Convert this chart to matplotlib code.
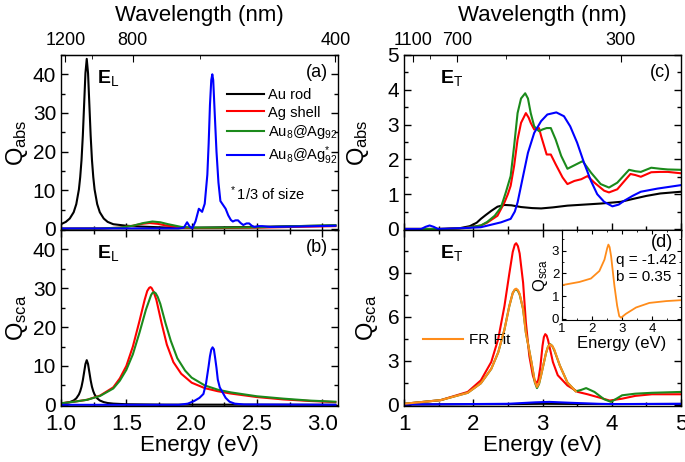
import numpy as np
import matplotlib
matplotlib.use('Agg')
import matplotlib.pyplot as plt
from matplotlib.ticker import MultipleLocator, FixedLocator

plt.rcParams['font.family'] = ['Liberation Sans', 'DejaVu Sans']
plt.rcParams['mathtext.fontset'] = 'custom'
plt.rcParams['mathtext.rm'] = 'Liberation Sans'
plt.rcParams['mathtext.it'] = 'Liberation Sans:italic'
plt.rcParams['mathtext.bf'] = 'Liberation Sans:bold'
plt.rcParams['xtick.direction'] = 'in'
plt.rcParams['ytick.direction'] = 'in'

# ---- colours
c_rod, c_ag, c_au8, c_small, c_fit = 'black', '#ff0000', '#1b8a1b', '#0000ff', '#ff8c1a'

# ---- (a) absorption, longitudinal
a_rod_e = [1.0, 1.037, 1.067, 1.097, 1.117, 1.137, 1.147, 1.157, 1.167, 1.177, 1.187, 1.197, 1.207, 1.217, 1.227, 1.237,
           1.247, 1.257, 1.277, 1.297, 1.327, 1.357, 1.40, 1.50, 1.60, 1.80, 2.00, 2.50, 3.10]
a_rod_q = [1.2, 1.8, 2.67, 4.3, 6.4, 10.2, 13.4, 17.8, 24.1, 32.2, 40.3, 44.0, 40.3, 32.2, 24.1, 17.8,
           13.4, 10.2, 6.4, 4.3, 2.67, 1.8, 1.2, 0.8, 0.6, 0.35, 0.3, 0.5, 0.9]
a_ag_e = [1.00, 1.30, 1.45, 1.55, 1.62, 1.68, 1.74, 1.80, 1.90, 2.00, 2.20, 2.50, 2.80, 3.10]
a_ag_q = [0.05, 0.1, 0.3, 0.8, 1.3, 1.5, 1.3, 0.9, 0.4, 0.2, 0.2, 0.3, 0.5, 0.7]
a_au8_e = [1.00, 1.30, 1.45, 1.55, 1.63, 1.70, 1.76, 1.82, 1.92, 2.00, 2.20, 2.50, 2.80, 3.10]
a_au8_q = [0.05, 0.1, 0.3, 0.8, 1.5, 1.9, 1.7, 1.2, 0.5, 0.3, 0.3, 0.4, 0.7, 0.9]
a_small_e = [1.00, 1.50, 1.90, 1.94, 1.965, 1.985, 2.005, 2.03, 2.055, 2.08, 2.10, 2.12, 2.13, 2.14, 2.15, 2.158, 2.165, 2.175,
             2.19, 2.205, 2.22, 2.24, 2.26, 2.28, 2.30, 2.315, 2.335, 2.355, 2.375, 2.395, 2.42, 2.44, 2.46, 2.48, 2.51, 2.54, 2.60, 2.80, 3.10]
a_small_q = [0.1, 0.1, 0.1, 0.3, 1.7, 0.6, 0.1, 2.0, 5.2, 4.4, 6.5, 14.0, 22.0, 32.0, 38.5, 40.0, 38.5, 31.0,
             20.0, 12.0, 7.2, 6.2, 5.2, 3.5, 2.3, 1.9, 2.2, 2.2, 1.5, 1.0, 1.4, 1.4, 0.8, 0.5, 0.7, 0.7, 0.5, 0.6, 0.8]

# ---- (b) scattering, longitudinal
b_rod_e = [1.0, 1.037, 1.067, 1.097, 1.117, 1.137, 1.147, 1.157, 1.167, 1.177, 1.187, 1.197, 1.207, 1.217, 1.227, 1.237,
           1.247, 1.257, 1.277, 1.297, 1.327, 1.357, 1.40, 1.50, 1.80, 3.10]
b_rod_q = [0.35, 0.5, 0.7, 1.12, 1.67, 2.67, 3.5, 4.65, 6.3, 8.4, 10.5, 11.5, 10.5, 8.4, 6.3, 4.65,
           3.5, 2.67, 1.67, 1.12, 0.7, 0.47, 0.31, 0.15, 0.05, 0.02]
b_ag_e = [1.00, 1.10, 1.20, 1.30, 1.40, 1.45, 1.50, 1.55, 1.60, 1.64, 1.66, 1.675, 1.685, 1.695, 1.71, 1.73, 1.77, 1.81,
          1.86, 1.92, 2.00, 2.10, 2.20, 2.30, 2.50, 2.70, 2.90, 3.10]
b_ag_q = [0.4, 0.8, 1.3, 2.4, 4.5, 6.8, 10.0, 15.0, 21.5, 27.0, 29.3, 30.1, 30.3, 30.0, 29.0, 27.0, 21.0, 15.5,
          11.0, 8.0, 5.7, 4.3, 3.5, 2.9, 2.0, 1.4, 1.0, 0.7]
b_au8_e = [1.00, 1.10, 1.20, 1.30, 1.40, 1.45, 1.50, 1.55, 1.60, 1.65, 1.69, 1.70, 1.713, 1.725, 1.74, 1.76, 1.80, 1.84,
           1.89, 1.95, 2.00, 2.10, 2.20, 2.30, 2.50, 2.70, 2.90, 3.10]
b_au8_q = [0.4, 0.8, 1.3, 2.3, 4.2, 6.2, 9.0, 13.0, 18.5, 24.5, 28.3, 28.8, 29.0, 28.7, 27.8, 26.0, 21.0, 16.5,
           12.0, 8.8, 7.0, 5.0, 3.9, 3.2, 2.2, 1.6, 1.1, 0.8]
b_small_e = [1.00, 1.90, 1.97, 2.02, 2.06, 2.09, 2.11, 2.13, 2.14, 2.15, 2.16, 2.17, 2.18, 2.19, 2.20, 2.215, 2.235, 2.26, 2.29, 2.33, 2.40, 3.10]
b_small_q = [0.0, 0.0, 0.3, 1.0, 1.8, 2.8, 5.5, 10.0, 12.5, 14.2, 14.8, 14.3, 12.0, 9.5, 6.5, 4.5, 3.3, 1.8, 0.8, 0.3, 0.1, 0.0]

# ---- (c) absorption, transverse
c_rod_e = [1.0, 1.5, 1.8, 1.95, 2.05, 2.11, 2.18, 2.26, 2.35, 2.45, 2.55, 2.69, 2.85, 2.98, 3.15, 3.36, 3.6, 3.84, 4.13, 4.3, 4.5, 4.7, 5.0]
c_rod_q = [0.0, 0.0, 0.02, 0.08, 0.18, 0.29, 0.4, 0.52, 0.64, 0.69, 0.68, 0.63, 0.6, 0.59, 0.62, 0.67, 0.7, 0.73, 0.78, 0.86, 0.95, 1.02, 1.07]
c_ag_e = [1.0, 1.6, 1.9, 2.11, 2.2, 2.35, 2.45, 2.5, 2.54, 2.59, 2.64, 2.69, 2.76, 2.8, 2.83, 2.88, 2.92, 2.95, 2.98, 3.06,
          3.12, 3.19, 3.29, 3.36, 3.46, 3.56, 3.65, 3.75, 3.89, 3.96, 4.08, 4.27, 4.34, 4.42, 4.57, 4.7, 4.81, 5.0]
c_ag_q = [0.0, 0.0, 0.03, 0.1, 0.18, 0.38, 0.76, 1.0, 1.24, 1.81, 2.57, 3.05, 3.33, 3.2, 3.05, 2.86, 2.88, 2.9, 2.67, 2.14,
          2.14, 1.86, 1.48, 1.29, 1.38, 1.43, 1.52, 1.33, 1.1, 1.05, 1.14, 1.58, 1.55, 1.5, 1.63, 1.64, 1.64, 1.6]
c_au8_e = [1.0, 1.6, 1.9, 2.11, 2.2, 2.31, 2.4, 2.47, 2.54, 2.59, 2.64, 2.69, 2.75, 2.79, 2.83, 2.88, 2.95, 3.0, 3.06, 3.12,
           3.19, 3.27, 3.36, 3.46, 3.58, 3.7, 3.84, 3.96, 4.08, 4.25, 4.34, 4.42, 4.57, 4.7, 4.81, 5.0]
c_au8_q = [0.0, 0.0, 0.03, 0.1, 0.2, 0.38, 0.62, 1.05, 1.52, 2.38, 3.33, 3.75, 3.9, 3.75, 3.33, 2.95, 2.81, 2.86, 2.9, 2.9,
           2.57, 2.1, 1.73, 1.83, 1.95, 1.62, 1.29, 1.19, 1.33, 1.7, 1.66, 1.64, 1.76, 1.73, 1.71, 1.7]
c_small_e = [1.0, 1.25, 1.31, 1.37, 1.43, 1.49, 1.92, 2.11, 2.4, 2.54, 2.6, 2.64, 2.71, 2.79, 2.88, 2.98, 3.07, 3.2, 3.31,
             3.4, 3.5, 3.6, 3.7, 3.79, 3.89, 4.01, 4.1, 4.18, 4.3, 4.42, 4.66, 5.0]
c_small_q = [0.0, 0.0, 0.06, 0.1, 0.06, 0.0, 0.03, 0.05, 0.19, 0.29, 0.5, 0.76, 1.43, 2.19, 2.76, 3.1, 3.29, 3.35, 3.24,
             2.95, 2.48, 1.9, 1.38, 1.0, 0.78, 0.65, 0.7, 0.81, 0.95, 1.07, 1.16, 1.26]

# ---- (d) scattering, transverse
d_rod_e = [1.0, 2.5, 3.0, 4.0, 5.0]
d_rod_q = [0.0, 0.03, 0.05, 0.03, 0.04]
d_ag_e = [1.0, 1.53, 1.92, 2.11, 2.26, 2.36, 2.45, 2.52, 2.57, 2.6, 2.62, 2.645, 2.67, 2.72, 2.76, 2.81, 2.86, 2.88, 2.91,
          2.94, 2.97, 3.0, 3.02, 3.04, 3.06, 3.08, 3.15, 3.22, 3.36, 3.51, 3.65, 3.84, 3.97, 4.15, 4.34, 4.58, 5.0]
d_ag_q = [0.05, 0.3, 0.86, 1.65, 2.9, 4.46, 6.7, 8.9, 10.4, 10.9, 11.0, 10.8, 10.3, 8.3, 5.6, 3.3, 2.0, 1.7, 1.42,
          1.7, 2.6, 4.0, 4.6, 4.8, 4.7, 4.4, 2.9, 2.0, 1.3, 0.86, 0.7, 0.45, 0.27, 0.4, 0.59, 0.7, 0.7]
d_au8_e = [1.0, 1.53, 1.92, 2.11, 2.26, 2.36, 2.45, 2.52, 2.57, 2.6, 2.62, 2.645, 2.67, 2.72, 2.76, 2.84, 2.89, 2.92, 2.95,
           2.98, 3.05, 3.08, 3.11, 3.14, 3.17, 3.25, 3.36, 3.48, 3.56, 3.63, 3.75, 3.89, 3.99, 4.15, 4.34, 4.58, 5.0]
d_au8_q = [0.05, 0.3, 0.8, 1.45, 2.43, 3.55, 5.1, 6.7, 7.6, 7.82, 7.84, 7.75, 7.5, 6.5, 4.9, 2.9, 1.5, 1.12, 1.4,
           2.0, 3.5, 3.95, 4.12, 4.0, 3.7, 2.66, 1.5, 0.9, 1.0, 1.12, 0.86, 0.36, 0.18, 0.63, 0.74, 0.8, 0.86]
d_small_e = [1.0, 2.5, 2.9, 3.1, 3.4, 3.8, 4.0, 5.0]
d_small_q = [0.0, 0.05, 0.15, 0.18, 0.12, 0.05, 0.03, 0.05]
d_fit_e = [1.0, 1.53, 1.92, 2.11, 2.26, 2.36, 2.45, 2.52, 2.57, 2.6, 2.62, 2.645, 2.67, 2.72, 2.76, 2.84, 2.89, 2.92, 2.95,
           2.98, 3.05, 3.08, 3.11, 3.14, 3.17, 3.25, 3.36, 3.48]
d_fit_q = [0.05, 0.3, 0.8, 1.45, 2.43, 3.55, 5.1, 6.7, 7.6, 7.85, 7.9, 7.8, 7.55, 6.5, 4.9, 2.9, 1.55, 1.2, 1.45,
           2.0, 3.5, 3.95, 4.1, 4.0, 3.75, 2.66, 1.5, 0.9]

# ---- inset FR profile
fr_e = [1.0, 1.58, 1.96, 2.24, 2.41, 2.5, 2.54, 2.58, 2.63, 2.74, 2.83, 2.9, 2.96, 3.12, 3.46, 3.9, 4.46, 4.95]
fr_q = [1.48, 1.62, 1.77, 2.1, 2.6, 3.1, 3.26, 3.15, 2.75, 1.45, 0.58, 0.12, 0.05, 0.22, 0.5, 0.7, 0.78, 0.82]

lab_rod = 'Au rod'
lab_ag = 'Ag shell'
lab_au8 = r'Au$_\mathregular{8}$@Ag$_\mathregular{92}$'
lab_small = r'Au$_\mathregular{8}$@Ag$_\mathregular{92}^\mathregular{*}$'

W, H = 685, 462
fig = plt.figure(figsize=(W / 100, H / 100), dpi=100)


def box(x0, y0, x1, y1):
    return [x0 / W, 1 - y1 / H, (x1 - x0) / W, (y1 - y0) / H]


def ev2nm(x):
    x = np.asarray(x, dtype=float)
    return 1239.84 / np.where(x == 0, 1e-9, x)


def style(ax):
    ax.tick_params(which='both', top=True, right=True, width=1)
    ax.tick_params(axis='y', labelsize=15)
    ax.tick_params(axis='x', labelsize=16, pad=6)
    ax.tick_params(which='major', length=5)
    ax.tick_params(which='minor', length=3)
    for s in ax.spines.values():
        s.set_linewidth(1.0)


lw = 1.5
ax_a = fig.add_axes(box(61, 55, 338, 230))
ax_b = fig.add_axes(box(61, 230, 338, 406))
ax_c = fig.add_axes(box(404, 55, 681, 230))
ax_d = fig.add_axes(box(404, 230, 681, 406))

ax_a.plot(a_rod_e, a_rod_q, color=c_rod, lw=lw, label=lab_rod)
ax_a.plot(a_ag_e, a_ag_q, color=c_ag, lw=lw, label=lab_ag)
ax_a.plot(a_au8_e, a_au8_q, color=c_au8, lw=lw, label=lab_au8)
ax_a.plot(a_small_e, a_small_q, color=c_small, lw=lw, label=lab_small)

ax_b.plot(b_rod_e, b_rod_q, color=c_rod, lw=lw)
ax_b.plot(b_ag_e, b_ag_q, color=c_ag, lw=lw)
ax_b.plot(b_au8_e, b_au8_q, color=c_au8, lw=lw)
ax_b.plot(b_small_e, b_small_q, color=c_small, lw=lw)

ax_c.plot(c_rod_e, c_rod_q, color=c_rod, lw=lw)
ax_c.plot(c_ag_e, c_ag_q, color=c_ag, lw=lw)
ax_c.plot(c_au8_e, c_au8_q, color=c_au8, lw=lw)
ax_c.plot(c_small_e, c_small_q, color=c_small, lw=lw)

ax_d.plot(d_rod_e, d_rod_q, color=c_rod, lw=lw)
ax_d.plot(d_ag_e, d_ag_q, color=c_ag, lw=lw)
ax_d.plot(d_au8_e, d_au8_q, color=c_au8, lw=lw)
ax_d.plot(d_small_e, d_small_q, color=c_small, lw=lw)
fit_line, = ax_d.plot(d_fit_e, d_fit_q, color=c_fit, lw=lw, label='FR Fit')

for ax in (ax_a, ax_b):
    ax.set_xlim(1.0, 3.12)
    ax.set_ylim(-0.3, 45)
    ax.yaxis.set_major_locator(MultipleLocator(10))
    ax.yaxis.set_minor_locator(MultipleLocator(5))
    ax.xaxis.set_major_locator(MultipleLocator(0.5))
    ax.xaxis.set_minor_locator(MultipleLocator(0.25))
    style(ax)
for ax in (ax_c, ax_d):
    ax.set_xlim(1, 5)
    ax.xaxis.set_major_locator(MultipleLocator(1))
    ax.xaxis.set_minor_locator(MultipleLocator(0.5))
    style(ax)
ax_c.set_ylim(-0.03, 5)
ax_c.yaxis.set_major_locator(MultipleLocator(1))
ax_c.yaxis.set_minor_locator(MultipleLocator(0.5))
ax_d.set_ylim(-0.1, 11.9)
ax_d.yaxis.set_major_locator(FixedLocator([0, 3, 6, 9]))
ax_d.yaxis.set_minor_locator(MultipleLocator(1.5))

ax_a.tick_params(labelbottom=False, top=False, which='both')
ax_c.tick_params(labelbottom=False, top=False, which='both')
ax_b.set_xticks([1.0, 1.5, 2.0, 2.5, 3.0])
ax_b.set_xticklabels(['1.0', '1.5', '2.0', '2.5', '3.0'])

# wavelength axes
for ax, maj, mnr in ((ax_a, [1200, 800, 400], [1000, 600]), (ax_c, [1100, 700, 300], [900, 500, 400])):
    sec = ax.secondary_xaxis('top', functions=(ev2nm, ev2nm))
    sec.set_xticks(maj)
    sec.xaxis.set_minor_locator(FixedLocator(mnr))
    sec.tick_params(which='both', direction='in', labelsize=13, pad=4)
    sec.tick_params(which='major', length=5)
    sec.tick_params(which='minor', length=3)
    sec.set_xlabel('Wavelength (nm)', fontsize=16, labelpad=8)

ax_a.set_ylabel(r'Q$_\mathregular{abs}$', fontsize=17, labelpad=2)
ax_b.set_ylabel(r'Q$_\mathregular{sca}$', fontsize=17, labelpad=2)
ax_c.set_ylabel(r'Q$_\mathregular{abs}$', fontsize=17, labelpad=12)
ax_d.set_ylabel(r'Q$_\mathregular{sca}$', fontsize=17, labelpad=5)
ax_b.set_xlabel('Energy (eV)', fontsize=16, labelpad=0)
ax_d.set_xlabel('Energy (eV)', fontsize=16, labelpad=0)

for ax, s in ((ax_a, 'L'), (ax_b, 'L'), (ax_c, 'T'), (ax_d, 'T')):
    ax.text(0.13, 0.87, r'$\mathbf{E}_\mathregular{%s}$' % s, transform=ax.transAxes, fontsize=14, va='center')
ax_a.text(0.965, 0.9, '(a)', transform=ax_a.transAxes, fontsize=13, ha='right', va='center')
ax_b.text(0.965, 0.9, '(b)', transform=ax_b.transAxes, fontsize=13, ha='right', va='center')
ax_c.text(0.965, 0.9, '(c)', transform=ax_c.transAxes, fontsize=13, ha='right', va='center')

ax_a.legend(loc='upper left', bbox_to_anchor=(0.58, 0.845), frameon=False, fontsize=10.5,
            handlelength=2.5, handletextpad=0.3, labelspacing=0.25, borderaxespad=0)
ax_a.text(0.605, 0.21, r'$^*$1/3 of size', transform=ax_a.transAxes, fontsize=10.5, va='center')
ax_d.legend(handles=[fit_line], loc='center left', bbox_to_anchor=(0.03, 0.375), frameon=False,
            fontsize=11, handlelength=2.6, handletextpad=0.4, borderaxespad=0.3)

# inset with Fano resonance profile
ins = fig.add_axes(box(562, 230, 681, 320))
ins.plot(fr_e, fr_q, color=c_fit, lw=1.3)
ins.set_xlim(1, 4.95)
ins.set_ylim(-0.05, 3.9)
ins.set_xticks([1, 2, 3, 4])
ins.set_yticks([0, 1, 2, 3])
ins.xaxis.set_minor_locator(MultipleLocator(0.5))
ins.yaxis.set_minor_locator(MultipleLocator(0.5))
ins.tick_params(which='both', top=True, right=True, labelsize=9.5, pad=2)
ins.tick_params(which='major', length=3)
ins.tick_params(which='minor', length=1.5)
ins.set_xlabel('Energy (eV)', fontsize=12, labelpad=1)
ins.set_ylabel(r'Q$_\mathregular{sca}$', fontsize=12, labelpad=1)
ins.text(0.45, 0.57, 'q = -1.42\nb = 0.35', transform=ins.transAxes, fontsize=11, va='center', linespacing=1.25)
ins.text(0.93, 0.86, '(d)', transform=ins.transAxes, fontsize=13, ha='right', va='center')

fig.savefig('out.png', dpi=100)
